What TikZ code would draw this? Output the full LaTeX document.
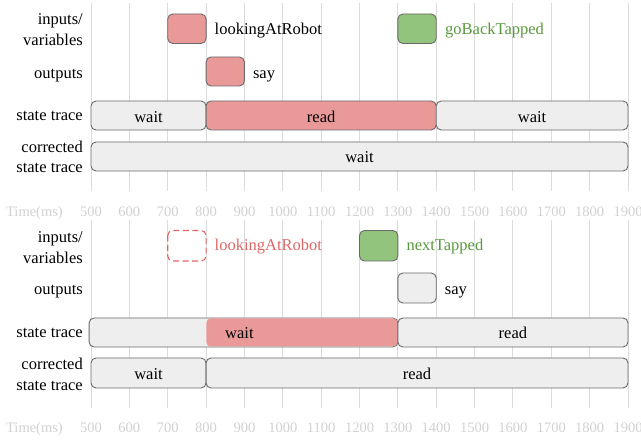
\documentclass[tikz,border=0pt]{standalone}
\usepackage{fontspec}
\setmainfont{Liberation Serif}
\definecolor{gridgray}{HTML}{DCDCDC}
\definecolor{axisgray}{HTML}{D2D2D2}
\definecolor{boxline}{HTML}{6A6A6A}
\definecolor{boxgray}{HTML}{EEEEEE}
\definecolor{pinkfill}{HTML}{EA9999}
\definecolor{greenfill}{HTML}{93C47D}
\definecolor{greentext}{HTML}{5A9A3E}
\definecolor{redtext}{HTML}{E06666}
\tikzset{
  rowlabel/.style={anchor=base east, inner sep=0pt, font=\fontsize{16.5}{20}\selectfont},
  boxtext/.style={anchor=base, inner sep=0pt, font=\fontsize{16.5}{20}\selectfont},
  sidelabel/.style={anchor=base west, inner sep=0pt, font=\fontsize{16.5}{20}\selectfont},
  ticklabel/.style={anchor=base, inner sep=0pt, text=axisgray, font=\fontsize{14.5}{17}\selectfont},
  gridline/.style={draw=gridgray, line width=0.9pt},
  evbox/.style={draw=boxline, line width=0.9pt, rounded corners=5pt},
  graybox/.style={evbox, fill=boxgray},
  pinkbox/.style={evbox, fill=pinkfill},
  greenbox/.style={evbox, fill=greenfill},
  ghostbox/.style={draw=redtext, line width=1.1pt, dash pattern=on 6pt off 3.5pt, rounded corners=5pt},
}
\begin{document}
\begin{tikzpicture}[x=1pt, y=-1pt]
\useasboundingbox (0,0) rectangle (641,443);
\fill[white] (0,0) rectangle (641,443);

% ---------- row labels (baselines) ----------
\node[rowlabel] (lin1a) at (83,25) {inputs/};
\node[rowlabel] (lin1b) at (83,46) {variables};
\node[rowlabel] (lout1) at (83,79) {outputs};
\node[rowlabel] (lst1) at (83,120.5) {state trace};
\node[rowlabel] (lcor1a) at (83,152.5) {corrected};
\node[rowlabel] (lcor1b) at (83,173) {state trace};

\node[rowlabel] (lin2a) at (83,243) {inputs/};
\node[rowlabel] (lin2b) at (83,264) {variables};
\node[rowlabel] (lout2) at (83,295) {outputs};
\node[rowlabel] (lst2) at (83,337.5) {state trace};
\node[rowlabel] (lcor2a) at (83,370) {corrected};
\node[rowlabel] (lcor2b) at (83,390.5) {state trace};

\node[ticklabel, anchor=base east] (tm1) at (63,216.5) {Time(ms)};
\node[ticklabel, anchor=base east] (tm2) at (63,432.5) {Time(ms)};

% ---------- time axis in milliseconds ----------
\begin{scope}[x=0.383571pt, xshift=-100.786pt]
  \foreach \t in {500,600,...,1900} {
    \draw[gridline] (\t,3) -- (\t,191);
    \draw[gridline] (\t,220) -- (\t,408);
    \node[ticklabel] (ta\t) at (\t,216.5) {\t};
    \node[ticklabel] (tb\t) at (\t,432.5) {\t};
  }

  % ===== first run =====
  \draw[pinkbox] (700,14) rectangle (800,43.5);
  \node[sidelabel] (in1a) at (822,34.5) {lookingAtRobot};
  \draw[greenbox] (1300,14) rectangle (1400,43.5);
  \node[sidelabel, text=greentext] (in1b) at (1423,34.5) {goBackTapped};

  \draw[pinkbox] (800,57) rectangle (900,86);
  \node[sidelabel] (out1) at (922,78.5) {say};

  \draw[graybox] (500,101) rectangle (800,130);
  \node[boxtext] (s1a) at (650,122.5) {wait};
  \draw[pinkbox] (800,101) rectangle (1400,130);
  \node[boxtext] (s1b) at (1100,122.5) {read};
  \draw[graybox] (1400,101) rectangle (1900,130);
  \node[boxtext] (s1c) at (1650,122.5) {wait};

  \draw[graybox] (500,142) rectangle (1900,171);
  \node[boxtext] (c1a) at (1200,163) {wait};

  % ===== second run =====
  \draw[ghostbox] (700,230.5) rectangle (800,261);
  \node[sidelabel, text=redtext] (in2a) at (822,251) {lookingAtRobot};
  \draw[greenbox] (1200,230.5) rectangle (1300,261);
  \node[sidelabel, text=greentext] (in2b) at (1322,251) {nextTapped};

  \draw[graybox] (1300,273) rectangle (1400,303);
  \node[sidelabel] (out2) at (1422,295) {say};

  \draw[graybox] (495,318) rectangle (1300,347);
  \fill[pinkfill, rounded corners=4pt] (801,318.5) rectangle (1298.6,346.5);
  \node[boxtext] (s2a) at (887,339) {wait};
  \draw[graybox] (1300,318) rectangle (1900,347);
  \node[boxtext] (s2b) at (1600,339) {read};

  \draw[graybox] (500,358) rectangle (800,388);
  \node[boxtext] (c2a) at (650,379.3) {wait};
  \draw[graybox] (800,358) rectangle (1900,388);
  \node[boxtext] (c2b) at (1350,379.3) {read};
\end{scope}
\end{tikzpicture}
\end{document}
